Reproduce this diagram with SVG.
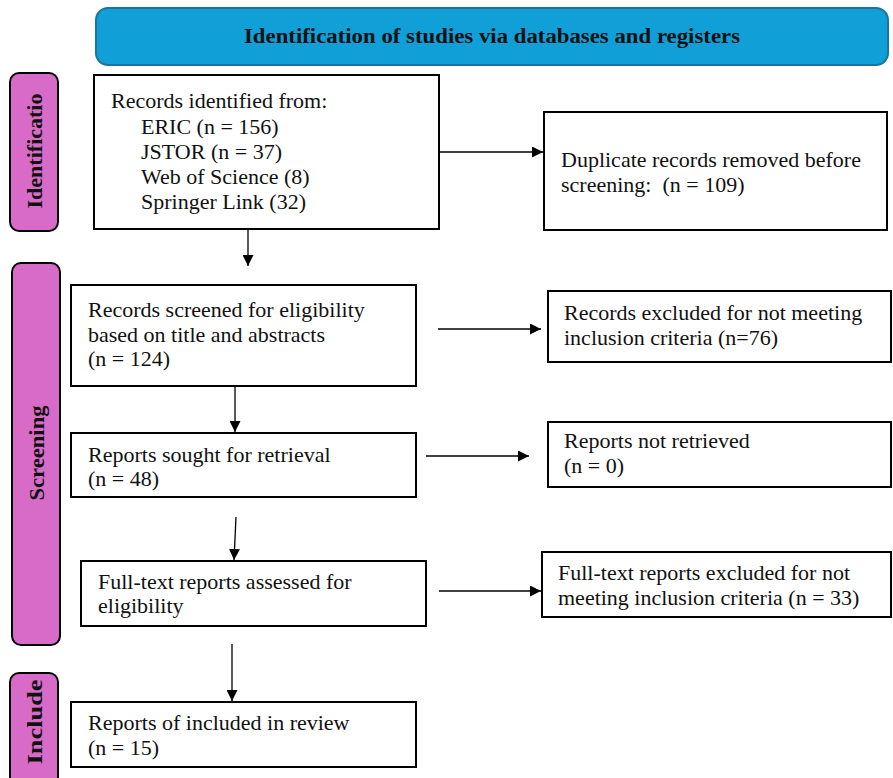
<svg xmlns="http://www.w3.org/2000/svg" width="893" height="778" viewBox="0 0 893 778">
<style>
.box{fill:#fff;stroke:#000;stroke-width:2}
.side{fill:#D86BC8;stroke:#000;stroke-width:2}
.t{font-family:"Liberation Serif","Times New Roman",serif;font-size:22px;fill:#111}
.lbl{font-family:"Liberation Serif","Times New Roman",serif;font-size:21px;font-weight:bold;fill:#111}
.conn{stroke:#000;stroke-width:1.3;fill:none}
</style>
<defs>
<marker id="ah" markerUnits="userSpaceOnUse" markerWidth="11" markerHeight="11" refX="11" refY="5.5" orient="auto">
<path d="M0,0 L11,5.5 L0,11 z" fill="#000"/>
</marker>
</defs>
<rect width="893" height="778" fill="#fff"/>

<g id="header">
<rect x="96" y="8" width="792" height="57" rx="12" fill="#109FD7" stroke="#1A76A0" stroke-width="2"/>
<text class="lbl" x="492" y="43" text-anchor="middle" textLength="496" lengthAdjust="spacingAndGlyphs">Identification of studies via databases and registers</text>
</g>

<g id="side-identification">
<rect class="side" x="10" y="73" width="48" height="158" rx="9"/>
<text class="lbl" transform="translate(42,151) rotate(-90)" text-anchor="middle" textLength="115" lengthAdjust="spacingAndGlyphs">Identificatio</text>
</g>
<g id="side-screening">
<rect class="side" x="12" y="263" width="48" height="382" rx="9"/>
<text class="lbl" transform="translate(44,453) rotate(-90)" text-anchor="middle" textLength="95" lengthAdjust="spacingAndGlyphs">Screening</text>
</g>
<g id="side-include">
<rect class="side" x="10" y="673" width="48" height="115" rx="9"/>
<text class="lbl" transform="translate(42,722) rotate(-90)" text-anchor="middle" textLength="85" lengthAdjust="spacingAndGlyphs">Include</text>
</g>

<g id="records-identified">
<rect class="box" x="94" y="75" width="345" height="154"/>
<text class="t" x="111" y="108">Records identified from:</text>
<text class="t" x="141" y="134">ERIC (n = 156)</text>
<text class="t" x="141" y="159">JSTOR (n = 37)</text>
<text class="t" x="141" y="184">Web of Science (8)</text>
<text class="t" x="141" y="209">Springer Link (32)</text>
</g>

<g id="duplicates-removed">
<rect class="box" x="544" y="112" width="343" height="118"/>
<text class="t" x="561" y="167">Duplicate records removed before</text>
<text class="t" x="561" y="192" xml:space="preserve">screening:  (n = 109)</text>
</g>

<g id="records-screened">
<rect class="box" x="71" y="285" width="345" height="101"/>
<text class="t" x="88" y="317">Records screened for eligibility</text>
<text class="t" x="88" y="342">based on title and abstracts</text>
<text class="t" x="88" y="366">(n = 124)</text>
</g>

<g id="records-excluded">
<rect class="box" x="548" y="291" width="343" height="71"/>
<text class="t" x="564" y="320">Records excluded for not meeting</text>
<text class="t" x="564" y="345">inclusion criteria (n=76)</text>
</g>

<g id="reports-sought">
<rect class="box" x="71" y="433" width="345" height="64"/>
<text class="t" x="88" y="462">Reports sought for retrieval</text>
<text class="t" x="88" y="486">(n = 48)</text>
</g>

<g id="reports-not-retrieved">
<rect class="box" x="548" y="422" width="343" height="65"/>
<text class="t" x="564" y="448">Reports not retrieved</text>
<text class="t" x="564" y="473">(n = 0)</text>
</g>

<g id="fulltext-assessed">
<rect class="box" x="81" y="561" width="345" height="65"/>
<text class="t" x="98" y="589">Full-text reports assessed for</text>
<text class="t" x="98" y="613">eligibility</text>
</g>

<g id="fulltext-excluded">
<rect class="box" x="542" y="552" width="349" height="65"/>
<text class="t" x="558" y="580">Full-text reports excluded for not</text>
<text class="t" x="558" y="605">meeting inclusion criteria (n = 33)</text>
</g>

<g id="included">
<rect class="box" x="71" y="702" width="345" height="65"/>
<text class="t" x="88" y="730">Reports of included in review</text>
<text class="t" x="88" y="755">(n = 15)</text>
</g>

<g id="connectors">
<line class="conn" x1="439" y1="152" x2="543" y2="152" marker-end="url(#ah)"/>
<line class="conn" x1="248" y1="229" x2="248" y2="266" marker-end="url(#ah)"/>
<line class="conn" x1="438" y1="329" x2="541" y2="329" marker-end="url(#ah)"/>
<line class="conn" x1="235" y1="386" x2="235" y2="432" marker-end="url(#ah)"/>
<line class="conn" x1="426" y1="456" x2="529" y2="456" marker-end="url(#ah)"/>
<line class="conn" x1="236" y1="517" x2="234" y2="560" marker-end="url(#ah)"/>
<line class="conn" x1="439" y1="591" x2="541" y2="591" marker-end="url(#ah)"/>
<line class="conn" x1="232" y1="644" x2="232" y2="701" marker-end="url(#ah)"/>
</g>
</svg>
